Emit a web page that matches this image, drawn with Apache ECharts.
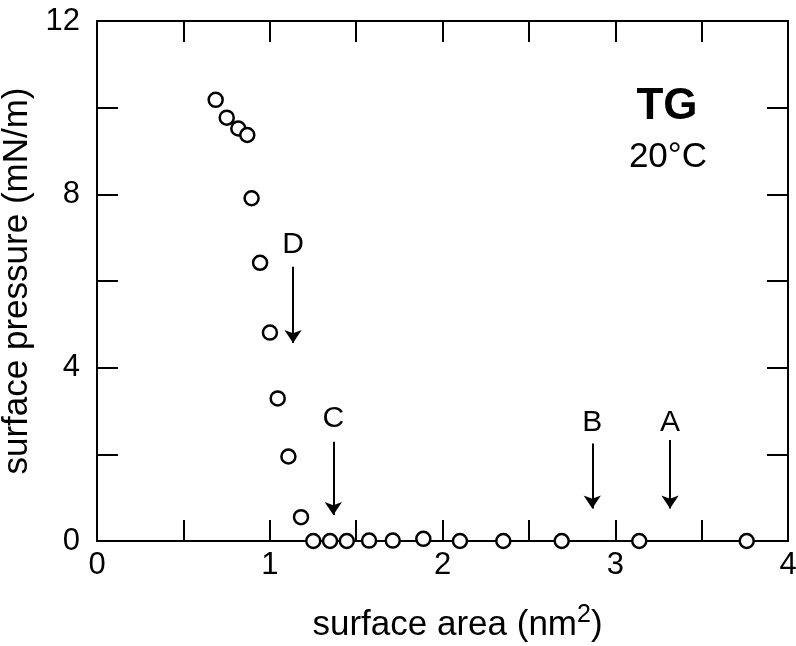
<!DOCTYPE html>
<html>
<head>
<meta charset="utf-8">
<script src="https://cdn.jsdelivr.net/npm/echarts@6/dist/echarts.min.js"></script>
<style>
  html, body { margin: 0; padding: 0; background: #fff; }
  #chart { width: 796px; height: 646px; }
</style>
</head>
<body>
<div id="chart"></div>
<script>
// isotherm points (surface area nm^2, surface pressure mN/m)
const areaValues = [0.687, 0.751, 0.818, 0.870, 0.895, 0.944, 1.001, 1.046, 1.108, 1.181,
  1.252, 1.349, 1.446, 1.575, 1.712, 1.889, 2.101, 2.352, 2.690, 3.139, 3.761];
const pressureValues = [10.18, 9.77, 9.52, 9.37, 7.91, 6.42, 4.81, 3.29, 1.95, 0.55,
  0, 0, 0, 0.01, 0.01, 0.05, 0, 0, 0, 0, 0];

// arrow annotations: letter, x, label y, arrow top y, arrow tip y
const arrowNames = ['D', 'C', 'B', 'A'];
const arrowX = [1.135, 1.368, 2.867, 3.317];
const arrowLabelY = [6.83, 2.83, 2.72, 2.72];
const arrowTopY = [6.33, 2.29, 2.25, 2.33];
const arrowTipY = [4.57, 0.60, 0.75, 0.75];

const xTicks = [0, 1, 2, 3, 4];
const yTicks = [0, 4, 8, 12];

const FONT = '"Liberation Sans", Arial, sans-serif';

const chart = echarts.init(document.getElementById('chart'));

const points = areaValues.map((x, i) => [x, pressureValues[i]]);
const letters = arrowNames.map((n, i) => ({ name: n, value: [arrowX[i], arrowLabelY[i]] }));
const arrows = arrowNames.map((n, i) => [
  { coord: [arrowX[i], arrowTopY[i]] },
  { coord: [arrowX[i], arrowTipY[i]] }
]);

const lineStyle = { color: '#000', width: 2 };

function baseX(extra) {
  return Object.assign({
    type: 'value', min: 0, max: 4, interval: 0.5,
    axisLine: { show: true, onZero: false, lineStyle: lineStyle },
    axisTick: { show: true, inside: true, length: 21, lineStyle: lineStyle },
    splitLine: { show: false }
  }, extra);
}
function baseY(extra) {
  return Object.assign({
    type: 'value', min: 0, max: 12, interval: 2,
    axisLine: { show: true, onZero: false, lineStyle: lineStyle },
    axisTick: { show: true, inside: true, length: 21, lineStyle: lineStyle },
    splitLine: { show: false }
  }, extra);
}

chart.setOption({
  animation: false,
  backgroundColor: '#fff',
  textStyle: { fontFamily: FONT },
  grid: { left: 97, right: 8, top: 21, bottom: 105, containLabel: false, outerBoundsMode: 'none' },
  xAxis: [
    baseX({
      position: 'bottom',
      name: '{t|surface area (nm}{s|2}{t|)}',
      nameLocation: 'middle',
      nameGap: 62,
      nameTextStyle: {
        padding: [0, 0, 0, 30],
        rich: {
          t: { fontSize: 35, color: '#000', fontFamily: FONT, lineHeight: 40, verticalAlign: 'bottom' },
          s: { fontSize: 25, color: '#000', fontFamily: FONT, lineHeight: 14, verticalAlign: 'top' }
        }
      },
      axisLabel: {
        color: '#000', fontSize: 31, fontFamily: FONT, margin: 9,
        formatter: v => (xTicks.indexOf(v) >= 0 ? String(v) : '')
      }
    }),
    baseX({ position: 'top', axisLabel: { show: false } })
  ],
  yAxis: [
    baseY({
      position: 'left',
      name: 'surface pressure (mN/m)',
      nameLocation: 'middle',
      nameGap: 46,
      nameTextStyle: { color: '#000', fontSize: 35, fontFamily: FONT },
      axisLabel: {
        color: '#000', fontSize: 31, fontFamily: FONT, margin: 17,
        formatter: v => (yTicks.indexOf(v) >= 0 ? String(v) : '')
      }
    }),
    baseY({ position: 'right', axisLabel: { show: false } })
  ],
  graphic: [
    { type: 'text', x: 667, y: 107, style: { text: 'TG', fill: '#000', font: 'bold 44px ' + FONT, textAlign: 'center', textVerticalAlign: 'middle' } },
    { type: 'text', x: 668, y: 157, style: { text: '20°C', fill: '#000', font: '35px ' + FONT, textAlign: 'center', textVerticalAlign: 'middle' } }
  ],
  series: [
    {
      type: 'scatter',
      data: points,
      symbol: 'circle',
      symbolSize: 14,
      itemStyle: { color: '#fff', borderColor: '#000', borderWidth: 2.5, opacity: 1 },
      z: 3,
      markLine: {
        silent: true,
        symbol: ['none', 'arrow'],
        symbolSize: 13,
        label: { show: false },
        lineStyle: { color: '#000', width: 2, type: 'solid', opacity: 1 },
        data: arrows
      }
    },
    {
      type: 'scatter',
      data: letters,
      symbolSize: 0,
      silent: true,
      itemStyle: { opacity: 1 },
      label: {
        show: true,
        position: 'inside',
        formatter: p => p.name,
        color: '#000',
        fontSize: 30,
        fontFamily: FONT
      }
    }
  ]
});
</script>
</body>
</html>
